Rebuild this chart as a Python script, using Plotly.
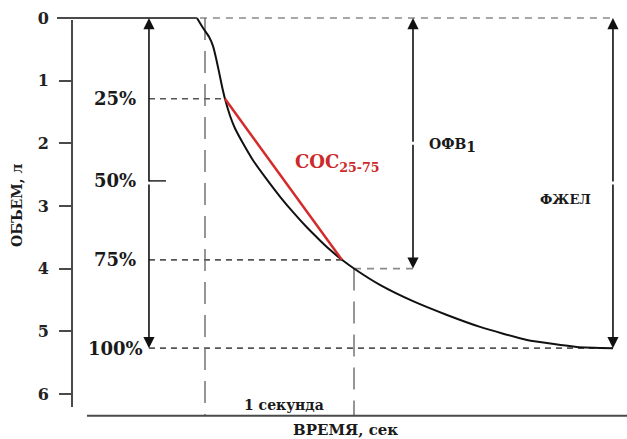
import plotly.graph_objects as go

# ---- data (time in seconds, volume in litres) ----
time_s = [-0.054, -0.013, 0.027, 0.054, 0.074, 0.094, 0.114, 0.134, 0.168, 0.201,
          0.255, 0.322, 0.416, 0.503, 0.591, 0.685, 0.772, 0.839, 0.919, 1.007,
          1.174, 1.396, 1.624, 1.846, 2.161, 2.497, 2.738]
volume_l = [0.00, 0.16, 0.30, 0.45, 0.64, 0.86, 1.09, 1.29, 1.56, 1.76,
            2.00, 2.27, 2.58, 2.85, 3.10, 3.345, 3.55, 3.70, 3.86, 4.01,
            4.26, 4.52, 4.74, 4.93, 5.14, 5.25, 5.27]

y_ticks = [0, 1, 2, 3, 4, 5, 6]
pct_labels = ["25%", "50%", "75%", "100%"]
pct_volumes = [1.29, 2.60, 3.86, 5.27]

coc_time = [0.134, 0.919]
coc_volume = [1.29, 3.86]

fev1_time = 1.0
fev1_volume = 4.0
fvc_volume = 5.27

# x positions of the measurement arrows (seconds)
pct_arrow_t = -0.376
ofv_arrow_t = 1.396
fvc_arrow_t = 2.738
x_start_t = -0.034
baseline_v = 6.35

X_RANGE = [-0.8926, 2.8322]
Y_RANGE = [6.4166, -0.1596]

SERIF = "DejaVu Serif"
AX = "#4a4a4a"

fig = go.Figure()

fig.add_trace(go.Scatter(x=time_s, y=volume_l, mode="lines",
                         line=dict(color="#111111", width=2, shape="spline", smoothing=0.5),
                         hoverinfo="skip", showlegend=False))
fig.add_trace(go.Scatter(x=coc_time, y=coc_volume, mode="lines",
                         line=dict(color="#d42a2a", width=2.5),
                         hoverinfo="skip", showlegend=False))

shapes = []
def hline(y, x0, x1, color, dash, width=1.6):
    shapes.append(dict(type="line", xref="x", yref="y", x0=x0, x1=x1, y0=y, y1=y,
                       line=dict(color=color, width=width, dash=dash), layer="below"))
def vline(x, y0, y1, color, dash, width=1.4):
    shapes.append(dict(type="line", xref="x", yref="y", x0=x, x1=x, y0=y0, y1=y1,
                       line=dict(color=color, width=width, dash=dash), layer="below"))

# top zero line (dashed part) and solid start
hline(0, x_start_t, fvc_arrow_t, "#8a8a8a", "7px,6px")
shapes.append(dict(type="line", xref="paper", yref="y", x0=-0.027, x1=0.225, y0=0, y1=0,
                   line=dict(color=AX, width=2)))
# percent levels
hline(pct_volumes[0], pct_arrow_t, coc_time[0], "#555555", "6px,5px")
hline(pct_volumes[2], pct_arrow_t, coc_time[1], "#555555", "6px,5px")
hline(pct_volumes[3], pct_arrow_t, fvc_arrow_t, "#555555", "6px,5px")
hline(fev1_volume, fev1_time, 1.43, "#8a8a8a", "7px,6px")
# 50% small tick
hline(pct_volumes[1], pct_arrow_t, -0.262, "#333333", "solid", 1.6)
# time markers
vline(0, 0, baseline_v, "#6a6a6a", "22px,11px")
vline(fev1_time, fev1_volume, baseline_v, "#6a6a6a", "22px,11px")
# axes lines
hline(baseline_v, -0.792, X_RANGE[1], AX, "solid", 2)
shapes.append(dict(type="line", xref="paper", yref="y", x0=0, x1=0, y0=0.03, y1=6.21,
                   line=dict(color=AX, width=2)))

ann = []
def arrow(x, y_head, y_tail):
    ann.append(dict(x=x, y=y_head, ax=x, ay=y_tail, xref="x", yref="y", axref="x", ayref="y",
                    text="", showarrow=True, arrowhead=2, arrowsize=1.4, arrowwidth=1.6,
                    arrowcolor="#111111", standoff=0))
for xa, top, bot in [(pct_arrow_t, 0, fvc_volume), (ofv_arrow_t, 0, fev1_volume),
                     (fvc_arrow_t, 0, fvc_volume)]:
    mid = (top + bot) / 2
    arrow(xa, top, mid)
    arrow(xa, bot, mid)

def label(text, x, y, size, color="#1a1a1a", xref="x", yref="y", xanchor="center", angle=0,
          weight="bold"):
    ann.append(dict(x=x, y=y, xref=xref, yref=yref, text=text, showarrow=False,
                    xanchor=xanchor, yanchor="middle", textangle=angle,
                    font=dict(family=SERIF, size=size, color=color, weight=weight)))

for t, v in zip(pct_labels, pct_volumes):
    label(t, -0.604, v, 18)
label("СОС<sub>25-75</sub>", 0.59, 2.31, 18, color="#cc2a2a", xanchor="left")
label("ОФВ<sub><span style='font-size:14px'>1</span></sub>", 1.49, 2.03, 14, xanchor="left")
label("ФЖЕЛ", 2.42, 2.9, 13)
label("1 секунда", 0.53, 6.17, 14)
label("ВРЕМЯ, сек", 0.94, -0.0243, 15, yref="paper")
label("ОБЪЕМ, л", -0.099, 3.0, 14, xref="paper", angle=-90)

fig.update_layout(
    width=627, height=439, autosize=False,
    margin=dict(l=72, r=0, t=8, b=19),
    paper_bgcolor="white", plot_bgcolor="white",
    shapes=shapes, annotations=ann,
    xaxis=dict(range=X_RANGE, visible=False, showgrid=False, zeroline=False),
    yaxis=dict(range=Y_RANGE, tickvals=y_ticks, ticks="outside", ticklen=12, tickwidth=2,
               tickcolor=AX, showline=False, showgrid=False, zeroline=False,
               ticklabelstandoff=7,
               tickfont=dict(family=SERIF, size=16, color="#222222", weight="bold")),
)

fig.write_html("out.html", config={"displayModeBar": False},
               post_script="document.body.style.margin='0';document.body.style.overflow='hidden';")
